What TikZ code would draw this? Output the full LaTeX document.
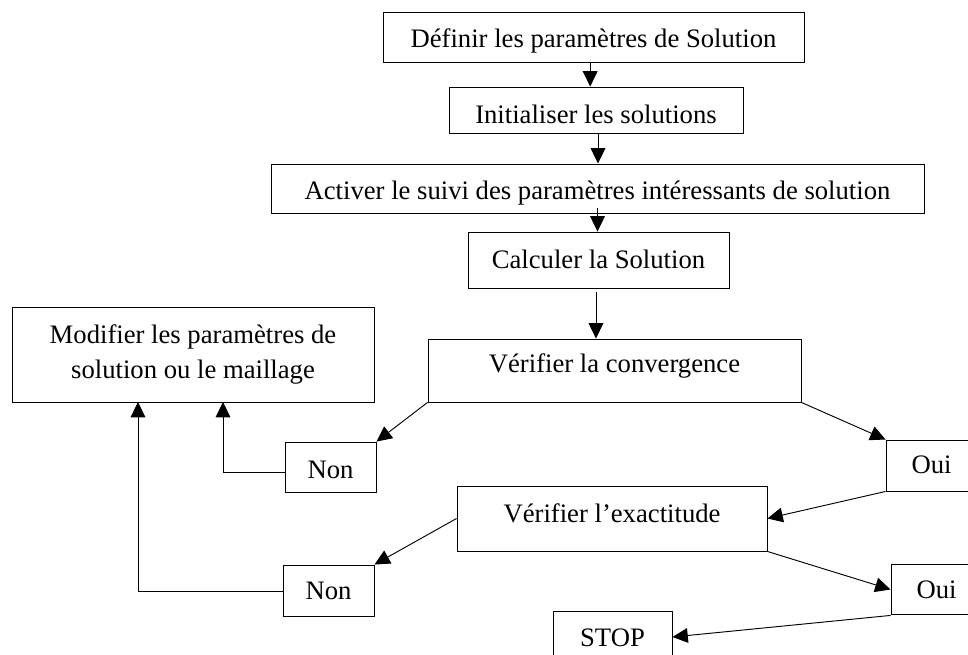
\documentclass[tikz,border=0pt]{standalone}
\usepackage{fontspec}
\setmainfont{Liberation Serif}
\usetikzlibrary{arrows.meta}
\begin{document}
\begin{tikzpicture}[x=0.75pt,y=-0.75pt,
  every node/.style={font=\fontsize{20}{26}\selectfont},
  box/.style={draw, line width=0.7pt, inner sep=0pt, rectangle},
  con/.style={line width=0.7pt, -{Triangle[length=11.5pt,width=11pt]}},
  ln/.style={line width=0.7pt}]
\useasboundingbox (0,0) rectangle (968,655);
\clip (0,0) rectangle (968,655);
\fill[white] (0,0) rectangle (968,655);

\node[box, minimum width=315.75pt, text height=27pt, text depth=10.5pt] (def) at (593.5,37) {Définir les paramètres de Solution};
\node[box, minimum width=220.5pt, text height=27.2pt, text depth=8pt] (init) at (596,110.5) {Initialiser les solutions};
\node[box, minimum width=489.75pt, text height=27pt, text depth=9.75pt] (act) at (597.5,188.5) {Activer le suivi des paramètres intéressants de solution};
\node[box, minimum width=195.75pt, text height=27.2pt, text depth=15.5pt] (calc) at (598.5,260.5) {Calculer la Solution};
\node[box, minimum width=279.75pt, text height=25.5pt, text depth=21.75pt] (conv) at (614.5,370.5) {Vérifier la convergence};
\node[box, minimum width=271.5pt, minimum height=71.25pt, align=center] (mod) at (193,354.5) {Modifier les paramètres de\\solution ou le maillage};
\node[box, minimum width=68.25pt, text height=27.2pt, text depth=11pt] (non1) at (330.5,467.5) {Non};
\node[box, minimum width=68.25pt, text height=25.5pt, text depth=12.75pt] (oui1) at (931.5,465.5) {Oui};
\node[box, minimum width=232.5pt, text height=27.75pt, text depth=21pt] (exa) at (612,518.5) {Vérifier l’exactitude};
\node[box, minimum width=68.25pt, text height=26.25pt, text depth=12pt] (non2) at (328.5,590.5) {Non};
\node[box, minimum width=68.25pt, text height=25.7pt, text depth=12.5pt] (oui2) at (936.5,589.5) {Oui};
\node[box, minimum width=89.25pt, text height=26.8pt, text depth=12pt] (stop) at (612.5,637) {STOP};

\coordinate (m1) at (223,402);
\coordinate (m2) at (138,402);

\draw[con] ([xshift=-2.5pt]def.south) -- ([xshift=-2.5pt]def.south |- init.north);
\draw[con] ([xshift=1.5pt]init.south) -- ([xshift=1.5pt]init.south |- act.north);
\draw[con] ([yshift=3.75pt]act.south) -- (act.south |- calc.north);
\draw[con] ([xshift=-1.9pt,yshift=-2.25pt]calc.south) -- ([xshift=-1.9pt]calc.south |- conv.north);
\draw[con] (conv.south west) -- (non1.north east);
\draw[con] (conv.south east) -- (oui1.north west);
\draw[con] (oui1.south west) -- (exa.east);
\draw[con] (exa.south east) -- (oui2.west);
\draw[con] (exa.west) -- (non2.north east);
\draw[con] (oui2.south west) -- (stop.east);
\draw[con] ([yshift=-4pt]non1.west) -| (m1);
\draw[con] ([yshift=-1pt]non2.west) -| (m2);
\end{tikzpicture}
\end{document}
